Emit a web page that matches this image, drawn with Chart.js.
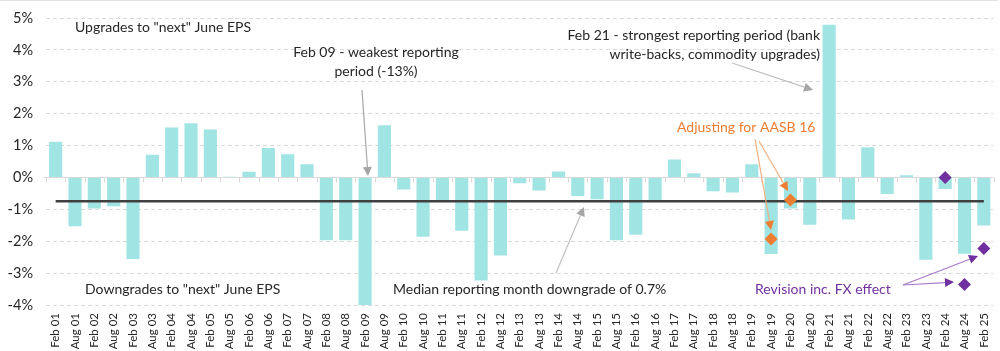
<!DOCTYPE html>
<html lang="en">
<head>
<meta charset="UTF-8">
<title>Reporting season EPS revisions</title>
<script src="https://cdn.jsdelivr.net/npm/chart.js"></script>
<style>
  html, body { margin: 0; padding: 0; background: #fff; }
  .wrap { width: 1000px; height: 351px; position: relative; }
</style>
</head>
<body>
<div class="wrap"><canvas id="epsChart" width="1000" height="351"></canvas></div>
<script>
// reporting seasons
const seasons = [
  'Feb 01', 'Aug 01', 'Feb 02', 'Aug 02', 'Feb 03', 'Aug 03', 'Feb 04', 'Aug 04',
  'Feb 05', 'Aug 05', 'Feb 06', 'Aug 06', 'Feb 07', 'Aug 07', 'Feb 08', 'Aug 08',
  'Feb 09', 'Aug 09', 'Feb 10', 'Aug 10', 'Feb 11', 'Aug 11', 'Feb 12', 'Aug 12',
  'Feb 13', 'Aug 13', 'Feb 14', 'Aug 14', 'Feb 15', 'Aug 15', 'Feb 16', 'Aug 16',
  'Feb 17', 'Aug 17', 'Feb 18', 'Aug 18', 'Feb 19', 'Aug 19', 'Feb 20', 'Aug 20',
  'Feb 21', 'Aug 21', 'Feb 22', 'Aug 22', 'Feb 23', 'Aug 23', 'Feb 24', 'Aug 24',
  'Feb 25'
];

// revision to "next" June EPS during the reporting month (%)
const revisions = [
  1.12, -1.53, -0.97, -0.90, -2.56, 0.71, 1.57, 1.70,
  1.50, 0.02, 0.18, 0.92, 0.73, 0.41, -1.97, -1.97,
  -13.0, 1.64, -0.38, -1.86, -0.73, -1.67, -3.23, -2.45,
  -0.18, -0.41, 0.19, -0.58, -0.68, -1.97, -1.80, -0.74,
  0.56, 0.13, -0.43, -0.47, 0.41, -2.40, -0.97, -1.48,
  4.79, -1.32, 0.95, -0.52, 0.07, -2.58, -0.36, -2.39,
  -1.51
];

// adjusted for AASB 16 (only Aug 19 and Feb 20)
const aasbAdjusted = [
  null, null, null, null, null, null, null, null,
  null, null, null, null, null, null, null, null,
  null, null, null, null, null, null, null, null,
  null, null, null, null, null, null, null, null,
  null, null, null, null, null, -1.93, -0.71, null,
  null, null, null, null, null, null, null, null,
  null
];

// revision including FX effect (Feb 24 onwards)
const incFx = [
  null, null, null, null, null, null, null, null,
  null, null, null, null, null, null, null, null,
  null, null, null, null, null, null, null, null,
  null, null, null, null, null, null, null, null,
  null, null, null, null, null, null, null, null,
  null, null, null, null, null, null, 0.0, -3.36,
  -2.23
];

const medianRevision = -0.75;
const yTicks = [-4, -3, -2, -1, 0, 1, 2, 3, 4, 5];

const FONT = 'Lato, "Open Sans", sans-serif';
const TEXT = '#262626';
const ORANGE = '#ED7D31';
const PURPLE = '#7030A0';

// text boxes and arrows on top of the chart
const notes = [
  { text: 'Upgrades to "next" June EPS', x: 75, y: 27, align: 'left', color: TEXT },
  { text: 'Feb 09 - weakest reporting', x: 376, y: 52, align: 'center', color: TEXT },
  { text: 'period (-13%)', x: 376, y: 71, align: 'center', color: TEXT },
  { text: 'Feb 21 - strongest reporting period (bank', x: 820, y: 35, align: 'right', color: TEXT },
  { text: 'write-backs, commodity upgrades)', x: 820, y: 54, align: 'right', color: TEXT },
  { text: 'Adjusting for AASB 16', x: 677, y: 127, align: 'left', color: ORANGE },
  { text: 'Median reporting month downgrade of 0.7%', x: 393, y: 289, align: 'left', color: TEXT },
  { text: 'Downgrades to "next" June EPS', x: 85, y: 289, align: 'left', color: TEXT },
  { text: 'Revision inc. FX effect', x: 755, y: 289, align: 'left', color: PURPLE }
];

const arrows = [
  { from: [362, 90], to: [368, 176], color: '#A6A6A6', head: '#A6A6A6' },
  { from: [732, 63], to: [813, 90], color: '#BFBFBF', head: '#A6A6A6' },
  { from: [556, 273], to: [584, 207], color: '#BFBFBF', head: '#A6A6A6' },
  { from: [755, 139], to: [771, 230], color: '#F4B183', head: ORANGE },
  { from: [759, 141], to: [788, 191], color: '#F4B183', head: ORANGE },
  { from: [903, 285], to: [978, 256], color: '#A77BCA', head: PURPLE },
  { from: [903, 285], to: [954, 282], color: '#A77BCA', head: PURPLE }
];

function drawArrow(ctx, a) {
  const [x1, y1] = a.from;
  const [x2, y2] = a.to;
  const ang = Math.atan2(y2 - y1, x2 - x1);
  const len = 9, half = 4.5;
  const bx = x2 - Math.cos(ang) * len;
  const by = y2 - Math.sin(ang) * len;
  ctx.strokeStyle = a.color;
  ctx.lineWidth = 1.2;
  ctx.beginPath();
  ctx.moveTo(x1, y1);
  ctx.lineTo(bx, by);
  ctx.stroke();
  ctx.fillStyle = a.head;
  ctx.beginPath();
  ctx.moveTo(x2, y2);
  ctx.lineTo(bx + Math.sin(ang) * half, by - Math.cos(ang) * half);
  ctx.lineTo(bx - Math.sin(ang) * half, by + Math.cos(ang) * half);
  ctx.closePath();
  ctx.fill();
}

const decorPlugin = {
  id: 'decor',
  beforeDatasetsDraw(chart) {
    const { ctx, chartArea, scales } = chart;
    const y0 = Math.round(scales.y.getPixelForValue(0)) + 0.5;
    ctx.save();
    // frame line at the very top
    ctx.strokeStyle = '#E3E3E3';
    ctx.lineWidth = 1;
    ctx.beginPath();
    ctx.moveTo(0, 0.5);
    ctx.lineTo(998, 0.5);
    ctx.stroke();
    // zero axis with small category ticks
    ctx.strokeStyle = '#D9D9D9';
    ctx.beginPath();
    ctx.moveTo(chartArea.left - 3, y0);
    ctx.lineTo(chartArea.right, y0);
    for (let i = 0; i <= seasons.length; i++) {
      const x = Math.round(scales.x.getPixelForValue(i - 0.5)) + 0.5;
      ctx.moveTo(x, y0);
      ctx.lineTo(x, y0 + 5);
    }
    ctx.stroke();
    ctx.restore();
  },
  afterDatasetsDraw(chart) {
    const { ctx } = chart;
    ctx.save();
    ctx.font = '14px ' + FONT;
    ctx.textBaseline = 'middle';
    notes.forEach(n => {
      ctx.fillStyle = n.color;
      ctx.textAlign = n.align;
      ctx.fillText(n.text, n.x, n.y);
    });
    arrows.forEach(a => drawArrow(ctx, a));
    ctx.restore();
  }
};

new Chart(document.getElementById('epsChart'), {
  type: 'bar',
  data: {
    labels: seasons,
    datasets: [
      {
        type: 'line',
        label: 'Inc. FX effect',
        data: incFx,
        showLine: false,
        pointStyle: 'rectRot',
        pointRadius: 6.5,
        pointBackgroundColor: PURPLE,
        pointBorderWidth: 0,
        clip: false,
        order: 0
      },
      {
        type: 'line',
        label: 'AASB 16 adjusted',
        data: aasbAdjusted,
        showLine: false,
        pointStyle: 'rectRot',
        pointRadius: 6.5,
        pointBackgroundColor: ORANGE,
        pointBorderWidth: 0,
        clip: false,
        order: 1
      },
      {
        type: 'line',
        label: 'Median',
        data: seasons.map(() => medianRevision),
        borderColor: '#404040',
        borderWidth: 2.5,
        pointRadius: 0,
        order: 2
      },
      {
        label: 'EPS revision',
        data: revisions,
        backgroundColor: '#A1E4E4',
        barPercentage: 0.68,
        categoryPercentage: 1.0,
        clip: 0,
        order: 3
      }
    ]
  },
  options: {
    responsive: false,
    animation: false,
    layout: { padding: { top: 18, right: 2, left: 0, bottom: 0 } },
    plugins: {
      legend: { display: false },
      tooltip: { enabled: false }
    },
    scales: {
      x: {
        grid: { display: false },
        border: { display: false },
        ticks: {
          autoSkip: false,
          minRotation: 90,
          maxRotation: 90,
          padding: 0,
          color: TEXT,
          font: { family: FONT, size: 11.5 }
        },
        afterFit(scale) {
          scale.height = 46;
          scale.paddingLeft = 0;
          scale.paddingRight = 0;
        }
      },
      y: {
        min: -4,
        max: 5,
        afterBuildTicks(scale) { scale.ticks = yTicks.map(v => ({ value: v })); },
        ticks: {
          padding: 13,
          color: TEXT,
          font: { family: FONT, size: 14.5 },
          callback: v => v + '%'
        },
        grid: {
          drawTicks: false,
          color: c => (c.tick && c.tick.value === 0 ? 'rgba(0,0,0,0)' : '#D9D9D9')
        },
        border: { display: false, dash: [4, 3] },
        afterFit(scale) {
          scale.width = 46;
          scale.paddingTop = 0;
          scale.paddingBottom = 0;
        }
      }
    }
  },
  plugins: [decorPlugin]
});
</script>
</body>
</html>
